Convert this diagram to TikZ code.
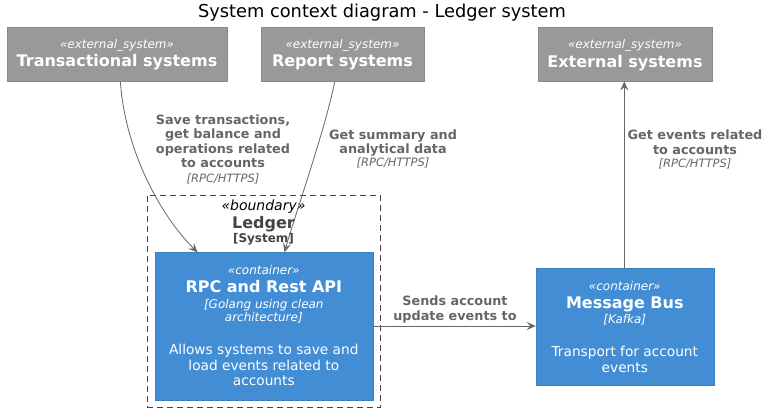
\documentclass[tikz,border=0pt]{standalone}
\usepackage{fontspec}
\setmainfont{DejaVu Sans}
\usetikzlibrary{arrows.meta}
\definecolor{extfill}{HTML}{999999}
\definecolor{extline}{HTML}{8A8A8A}
\definecolor{contfill}{HTML}{438DD5}
\definecolor{contline}{HTML}{3C7FC0}
\definecolor{edgecol}{HTML}{666666}
\definecolor{bndcol}{HTML}{444444}
\newcommand{\fs}[1]{\fontsize{#1}{#1}\selectfont}
\begin{document}
\begin{tikzpicture}[x=1pt,y=-1pt,
  extbox/.style={draw=extline,fill=extfill,line width=0.8pt,inner sep=0pt,anchor=north west},
  contbox/.style={draw=contline,fill=contfill,line width=0.8pt,inner sep=0pt,anchor=north west},
  bndbox/.style={draw=bndcol,dash pattern=on 6pt off 4pt,line width=0.8pt,inner sep=0pt,anchor=north west},
  txt/.style={anchor=base,inner sep=0pt,text=white},
  stereo/.style={txt,font=\fs{12}\itshape},
  bname/.style={txt,font=\fs{16}\bfseries},
  tech/.style={txt,font=\fs{12}\itshape},
  desc/.style={txt,font=\fs{13.7}},
  elab/.style={anchor=base,inner sep=0pt,text=edgecol,font=\fs{12.8}\bfseries},
  etech/.style={anchor=base,inner sep=0pt,text=edgecol,font=\fs{11.5}\itshape},
  rel/.style={draw=edgecol,line width=0.8pt,-{Stealth[length=9pt,width=8pt,inset=3.5pt]}}
]
\useasboundingbox (0,0) rectangle (775,412);
\node[anchor=base,inner sep=0pt,font=\fs{17.8}] (title) at (382,17.3) {System context diagram - Ledger system};

% external systems
\node[extbox,minimum width=220.6pt,minimum height=54.3pt] (trans) at (6.7,26.7) {};
\node[stereo] (trans-s) at (117,48.8) {«external\_system»};
\node[bname] (trans-n) at (117,66.7) {Transactional systems};

\node[extbox,minimum width=163.6pt,minimum height=54.3pt] (rep) at (260.7,26.7) {};
\node[stereo] (rep-s) at (342.5,48.5) {«external\_system»};
\node[bname] (rep-n) at (342.5,66.7) {Report systems};

\node[extbox,minimum width=174.6pt,minimum height=54pt] (ext) at (537.7,26.7) {};
\node[stereo] (ext-s) at (625,48.7) {«external\_system»};
\node[bname] (ext-n) at (625,67.5) {External systems};

% boundary
\node[bndbox,minimum width=233.3pt,minimum height=212.6pt] (bnd) at (146.7,194.7) {};
\node[anchor=base,inner sep=0pt,text=black,font=\fs{14}\itshape] (bnd-s) at (263.5,210.7) {«boundary»};
\node[anchor=base,inner sep=0pt,text=bndcol,font=\fs{16}\bfseries] (bnd-n) at (263.5,228.3) {Ledger};
\node[anchor=base,inner sep=0pt,text=bndcol,font=\fs{12}\bfseries] (bnd-t) at (263.5,242.7) {[System]};

% containers
\node[contbox,minimum width=217.7pt,minimum height=147.7pt] (rpc) at (155,252.3) {};
\node[stereo] (rpc-s) at (263.8,274.3) {«container»};
\node[bname] (rpc-n) at (263.8,292.7) {RPC and Rest API};
\node[tech] (rpc-t1) at (263.8,308.3) {[Golang using clean};
\node[tech] (rpc-t2) at (263.8,321.7) {architecture]};
\node[desc] (rpc-d1) at (263.8,354) {Allows systems to save and};
\node[desc] (rpc-d2) at (263.8,370) {load events related to};
\node[desc] (rpc-d3) at (263.8,385.7) {accounts};

\node[contbox,minimum width=178.3pt,minimum height=116.7pt] (bus) at (535.7,268.3) {};
\node[stereo] (bus-s) at (624.8,290) {«container»};
\node[bname] (bus-n) at (624.8,308.3) {Message Bus};
\node[tech] (bus-t) at (624.8,323.3) {[Kafka]};
\node[desc] (bus-d1) at (624.8,356) {Transport for account};
\node[desc] (bus-d2) at (624.8,372.3) {events};

% relations
\draw[rel] ([xshift=3pt]trans.south) .. controls (125,150) and (160,215) .. ([xshift=-66.8pt]rpc.north);
\node[elab] (l1a) at (223,124) {Save transactions,};
\node[elab] (l1b) at (223,138.6) {get balance and};
\node[elab] (l1c) at (223,153.2) {operations related};
\node[elab] (l1d) at (223,167.8) {to accounts};
\node[etech] (l1e) at (223,182.5) {[RPC/HTTPS]};

\draw[rel] ([xshift=-8.2pt]rep.south) .. controls (325,130) and (295,215) .. ([xshift=20.2pt]rpc.north);
\node[elab] (l2a) at (393,139) {Get summary and};
\node[elab] (l2b) at (393,153.3) {analytical data};
\node[etech] (l2c) at (393,166.7) {[RPC/HTTPS]};

\draw[rel] (rpc.east |- 0,326) -- (bus.west |- 0,326);
\node[elab] (l3a) at (455,305) {Sends account};
\node[elab] (l3b) at (455,320) {update events to};

\draw[rel] (bus.north -| 624.3,0) -- (ext.south -| 624.3,0);
\node[elab] (l4a) at (695,139.3) {Get events related};
\node[elab] (l4b) at (695,154) {to accounts};
\node[etech] (l4c) at (695,167.7) {[RPC/HTTPS]};
\end{tikzpicture}
\end{document}
